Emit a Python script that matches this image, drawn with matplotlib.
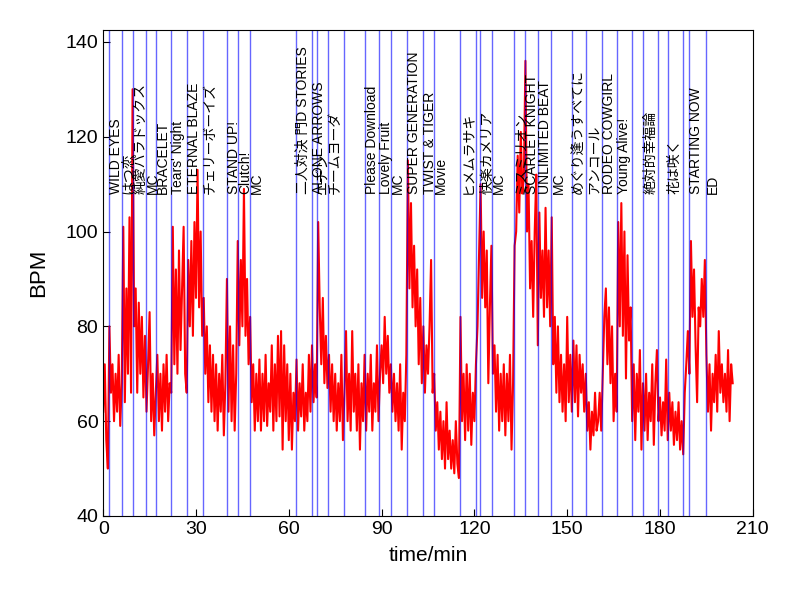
import numpy as np
import matplotlib
matplotlib.use("Agg")
import matplotlib.pyplot as plt

plt.rcParams['font.family'] = ['Liberation Sans', 'Noto Sans CJK JP']

# heart rate, one reading every 0.5 min (rows = 10 min)
step_min = 0.5
bpm = [
    62, 72, 56, 50, 80, 66, 72, 60, 70, 62, 74, 59, 68, 101, 64, 88, 70, 103, 66, 130,
    80, 88, 66, 85, 70, 82, 65, 78, 62, 72, 83, 60, 70, 57, 66, 74, 60, 70, 58, 72,
    62, 74, 60, 68, 66, 101, 72, 92, 70, 96, 75, 88, 101, 70, 66, 94, 80, 98, 78, 102,
    86, 113, 84, 100, 78, 86, 70, 80, 64, 76, 62, 74, 60, 72, 58, 70, 62, 74, 57, 68,
    90, 62, 80, 60, 76, 58, 70, 98, 76, 94, 80, 109, 78, 90, 72, 82, 64, 72, 58, 70,
    60, 73, 58, 70, 60, 74, 59, 68, 62, 76, 58, 72, 60, 78, 61, 79, 54, 76, 60, 72,
    56, 70, 54, 66, 60, 73, 58, 68, 61, 72, 58, 66, 60, 74, 62, 76, 64, 72, 65, 102,
    84, 72, 86, 68, 78, 67, 74, 62, 72, 60, 70, 58, 68, 60, 74, 56, 66, 79, 60, 70,
    58, 79, 62, 70, 58, 72, 54, 68, 60, 74, 58, 70, 62, 74, 58, 68, 62, 76, 60, 70,
    76, 68, 82, 70, 78, 66, 72, 62, 70, 60, 68, 58, 72, 54, 66, 60, 74, 115, 88, 106,
    84, 97, 80, 92, 72, 86, 68, 80, 66, 76, 70, 80, 94, 66, 70, 58, 64, 54, 62, 52,
    60, 50, 64, 52, 58, 50, 56, 49, 60, 51, 48, 82, 60, 70, 56, 72, 58, 70, 55, 66,
    60, 72, 80, 95, 110, 86, 100, 84, 96, 68, 84, 97, 70, 76, 62, 74, 58, 70, 60, 72,
    57, 70, 60, 74, 54, 68, 97, 100, 116, 104, 121, 108, 112, 136, 100, 110, 88, 98, 82, 100,
    112, 76, 104, 86, 96, 82, 105, 84, 96, 80, 103, 72, 82, 66, 80, 64, 74, 62, 72, 60,
    82, 64, 74, 62, 77, 64, 76, 61, 74, 66, 72, 62, 70, 58, 64, 54, 62, 57, 66, 58,
    60, 66, 58, 70, 82, 88, 72, 84, 68, 80, 60, 70, 62, 102, 80, 106, 78, 100, 69, 95,
    77, 84, 60, 72, 56, 70, 62, 75, 54, 68, 58, 70, 56, 66, 60, 72, 55, 68, 75, 60,
    65, 57, 64, 58, 73, 56, 66, 58, 64, 55, 62, 56, 64, 54, 60, 53, 66, 72, 79, 70,
    98, 82, 92, 76, 64, 84, 80, 90, 82, 94, 74, 62, 72, 58, 70, 64, 74, 62, 79, 66,
    72, 64, 70, 62, 75, 60, 72, 68,
]

# start of each song / segment (min) and its label
song_start = [1.9, 5.95, 9.7, 13.7, 17.05, 21.9, 27.1, 32.35, 39.95, 43.5,
              47.5, 62.3, 67.45, 69.05, 72.6, 78.0, 84.5, 89.2, 93.0, 98.2,
              103.25, 106.8, 115.45, 120.6, 121.9, 125.7, 132.7, 136.2, 140.4, 144.9,
              151.4, 156.2, 161.4, 166.2, 170.8, 174.6, 179.2, 182.5, 187.5, 189.4,
              194.8]
song_title = ["WILD EYES", "はつ恋", "純愛パラドックス", "MC", "BRACELET",
              "Tears' Night", "ETERNAL BLAZE", "チェリーボーイズ", "STAND UP!", "Clutch!",
              "MC", "二人対決 門D STORIES", "ALONE ARROWS", "エデン", "チームヨーダ",
              "", "Please Download", "Lovely Fruit", "MC", "SUPER GENERATION",
              "TWIST & TIGER", "Movie", "ヒメムラサキ", "", "快楽カメリア",
              "MC", "ミスミリオン", "SCARLET KNIGHT", "UNLIMITED BEAT", "MC",
              "めぐり逢うすべてに", "アンコール", "RODEO COWGIRL", "Young Alive!", "",
              "絶対的幸福論", "", "花は咲く", "", "STARTING NOW",
              "ED"]

t = np.arange(len(bpm)) * step_min

fig = plt.figure(figsize=(8, 6), dpi=100)
ax = fig.add_axes([0.129, 0.14, 0.812, 0.81])

ax.plot(t, bpm, color='red', lw=1.5)

for x, name in zip(song_start, song_title):
    ax.axvline(x, color='blue', lw=1, alpha=0.6)
    if name:
        ax.text(x, 108, name, rotation=90, ha='left', va='bottom', fontsize=10)

ax.set_xlim(0, 210)
ax.set_ylim(40, 142.5)
ax.set_xticks(range(0, 211, 30))
ax.set_yticks(range(40, 141, 20))
ax.tick_params(direction='in', labelsize=14, length=5)
ax.set_xlabel('time/min', fontsize=15, labelpad=6)
ax.set_ylabel('BPM', fontsize=16, labelpad=12)

plt.savefig('out.png', dpi=100)
